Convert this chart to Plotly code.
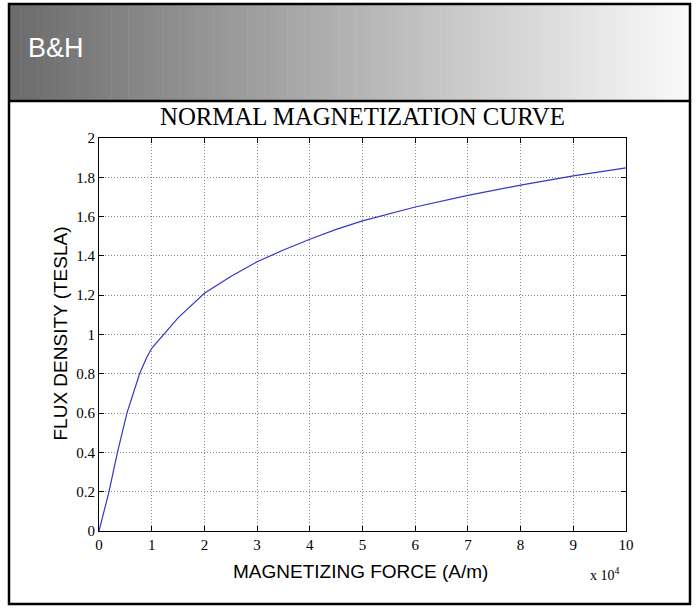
import plotly.graph_objects as go

# Data: magnetizing force H (A/m) and flux density B (Tesla)
H = [0, 1900, 3500, 5300, 7700, 9000, 10000, 12000, 15000, 20000, 25000,
     30000, 35000, 40000, 45000, 50000, 60000, 70000, 80000, 90000, 100000]
B = [0, 0.2, 0.4, 0.6, 0.8, 0.88, 0.93, 0.99, 1.085, 1.21, 1.295,
     1.37, 1.43, 1.485, 1.535, 1.578, 1.649, 1.708, 1.76, 1.807, 1.848]

x_tickvals = [0, 10000, 20000, 30000, 40000, 50000, 60000, 70000, 80000, 90000, 100000]
x_ticktext = ["0", "1", "2", "3", "4", "5", "6", "7", "8", "9", "10"]
y_tickvals = [0, 0.2, 0.4, 0.6, 0.8, 1.0, 1.2, 1.4, 1.6, 1.8, 2.0]
y_ticktext = ["0", "0.2", "0.4", "0.6", "0.8", "1", "1.2", "1.4", "1.6", "1.8", "2"]

title_text = "NORMAL MAGNETIZATION CURVE"
xlabel = "MAGNETIZING FORCE (A/m)"
ylabel = "FLUX DENSITY (TESLA)"
header_text = "B&H"

W, Hh = 698, 610
L, R, T, Bm = 99, 626, 138, 531  # plot area pixel bounds


def px(x):
    return (x - L) / (R - L)


def py(y):
    return (Bm - y) / (Bm - T)


fig = go.Figure()
fig.add_trace(go.Scatter(x=H, y=B, mode="lines",
                         line=dict(color="#3535c8", width=1.2),
                         showlegend=False, hoverinfo="skip"))

shapes = []
# header gradient
n = 120
x0, x1, y0, y1 = 9, 690, 5, 101
for i in range(n):
    a = x0 + (x1 - x0) * i / n
    b = x0 + (x1 - x0) * (i + 1) / n
    t = i / (n - 1)
    c = int(108 + (250 - 108) * t)
    shapes.append(dict(type="rect", xref="paper", yref="paper",
                       x0=px(a), x1=px(b) + 0.001, y0=py(y1), y1=py(y0),
                       fillcolor=f"rgb({c},{c},{c})", line=dict(width=0),
                       layer="below"))
# header bottom line
shapes.append(dict(type="line", xref="paper", yref="paper",
                   x0=px(9), x1=px(690), y0=py(101), y1=py(101),
                   line=dict(color="black", width=2.5)))
# outer frame
shapes.append(dict(type="rect", xref="paper", yref="paper",
                   x0=px(9), x1=px(690), y0=py(604), y1=py(4),
                   line=dict(color="black", width=2.5)))

axis_common = dict(showline=True, linecolor="black", linewidth=1,
                   mirror="ticks", ticks="inside", ticklen=5,
                   tickcolor="black", showgrid=True, gridcolor="#8a8a8a",
                   griddash="1px,2px", gridwidth=1, zeroline=False,
                   tickfont=dict(family="Liberation Serif", size=15, color="black"))

fig.update_layout(
    width=W, height=Hh,
    margin=dict(l=L, r=W - R, t=T, b=Hh - Bm, pad=0),
    paper_bgcolor="white", plot_bgcolor="white",
    shapes=shapes,
    xaxis=dict(range=[0, 100000], tickmode="array", tickvals=x_tickvals,
               ticktext=x_ticktext, **axis_common),
    yaxis=dict(range=[0, 2], tickmode="array", tickvals=y_tickvals,
               ticktext=y_ticktext, **axis_common),
    annotations=[
        dict(text=header_text, xref="paper", yref="paper", x=px(26), y=py(48),
             xanchor="left", yanchor="middle", showarrow=False,
             font=dict(family="Liberation Sans", size=27, color="white")),
        dict(text=title_text, xref="paper", yref="paper", x=px(362), y=py(116.5),
             xanchor="center", yanchor="middle", showarrow=False,
             font=dict(family="Liberation Serif", size=24.8, color="black")),
        dict(text=xlabel, xref="paper", yref="paper", x=px(360), y=py(571),
             xanchor="center", yanchor="middle", showarrow=False,
             font=dict(family="Liberation Sans", size=19, color="black")),
        dict(text=ylabel, xref="paper", yref="paper", x=px(59.5), y=py(334),
             xanchor="center", yanchor="middle", showarrow=False, textangle=-90,
             font=dict(family="Liberation Sans", size=19, color="black")),
        dict(text="x 10<sup>4</sup>", xref="paper", yref="paper", x=px(605), y=py(574),
             xanchor="center", yanchor="middle", showarrow=False,
             font=dict(family="Liberation Serif", size=14, color="black")),
    ],
)

fig.write_html("out.html", config={"displayModeBar": False},
               post_script="document.body.style.margin='0';")
